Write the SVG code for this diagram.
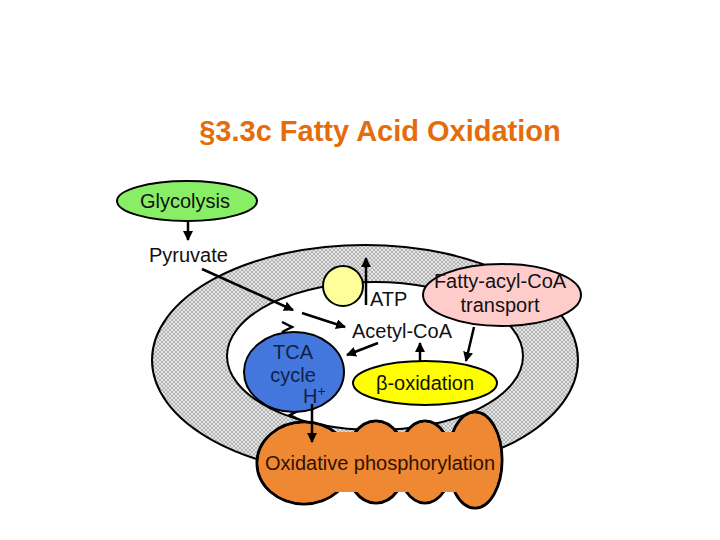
<svg xmlns="http://www.w3.org/2000/svg" width="720" height="540" viewBox="0 0 720 540">
<defs>
<pattern id="hatch" width="4" height="4" patternUnits="userSpaceOnUse">
<rect width="4" height="4" fill="#e4e4e4"/>
<path d="M0 0L4 4M4 0L0 4" stroke="#a8a8a8" stroke-width="0.8"/>
</pattern>
<marker id="ah" viewBox="0 0 10 10" refX="9" refY="5" markerWidth="4" markerHeight="4" orient="auto">
<path d="M0 0L10 5L0 10z" fill="#000"/>
</marker>
<style>
text{font-family:"Liberation Sans",Arial,sans-serif;fill:#111;font-size:20px}
.c{text-anchor:middle}
.ln{stroke:#000;stroke-width:2.5;fill:none}
.sh{stroke:#000;stroke-width:2}
</style>
</defs>
<rect width="720" height="540" fill="#fff"/>
<text x="380" y="141" class="c" style="font-size:29px;font-weight:bold;fill:#e46c0a">§3.3c Fatty Acid Oxidation</text>

<g id="mito">
<ellipse cx="365" cy="360" rx="213" ry="115" fill="url(#hatch)" class="sh"/>
<ellipse cx="375" cy="356" rx="148" ry="74" fill="#fff" class="sh"/>
<path d="M282 322L292 327L282 332" class="ln" stroke-width="2"/>
<path d="M300 410L290 415L300 420" class="ln" stroke-width="2"/>
</g>

<g id="glycolysis">
<ellipse cx="187" cy="201" rx="70" ry="20" fill="#88ee66" class="sh"/>
<text x="185" y="208" class="c">Glycolysis</text>
</g>
<g id="pyruvate"><text x="149" y="262">Pyruvate</text></g>

<g id="atp">
<circle cx="343" cy="286" r="20" fill="#ffff99" class="sh"/>
<text x="370" y="306">ATP</text>
</g>

<g id="fatty">
<ellipse cx="502" cy="295" rx="79" ry="31" fill="#ffcccc" class="sh"/>
<text x="500" y="288" class="c">Fatty-acyl-CoA</text>
<text x="500" y="312" class="c">transport</text>
</g>

<g id="acetyl"><text x="402" y="338" class="c">Acetyl-CoA</text></g>

<g id="tca">
<ellipse cx="294" cy="372" rx="50" ry="40" fill="#4477dd" class="sh"/>
<text x="293" y="359" class="c" style="fill:#112244">TCA</text>
<text x="293" y="382" class="c" style="fill:#112244">cycle</text>
<text x="303" y="403" style="fill:#112244">H<tspan dy="-7" font-size="14">+</tspan></text>
</g>

<g id="beta">
<ellipse cx="425" cy="383" rx="72" ry="22" fill="#ffff00" class="sh"/>
<text x="425" y="390" class="c">β-oxidation</text>
</g>

<g id="oxphos">
<g stroke="#000" stroke-width="3" fill="#ee8833">
<ellipse cx="304" cy="463" rx="47" ry="41"/>
<ellipse cx="376" cy="462" rx="30" ry="41"/>
<ellipse cx="425" cy="462" rx="27" ry="41"/>
<ellipse cx="475" cy="460" rx="27" ry="48"/>
</g>
<g fill="#ee8833">
<ellipse cx="304" cy="463" rx="45.5" ry="39.5"/>
<ellipse cx="376" cy="462" rx="28.5" ry="39.5"/>
<ellipse cx="425" cy="462" rx="25.5" ry="39.5"/>
<ellipse cx="475" cy="460" rx="25.5" ry="46.5"/>
<rect x="300" y="432" width="170" height="60"/>
</g>
<text x="380" y="470" class="c" style="fill:#331100">Oxidative phosphorylation</text>
</g>

<g id="connectors">
<path d="M188 222V240" class="ln" marker-end="url(#ah)"/>
<path d="M202 269L293 310" class="ln" marker-end="url(#ah)"/>
<path d="M302 313L345 327" class="ln" marker-end="url(#ah)"/>
<path d="M378 343L347 355" class="ln" marker-end="url(#ah)"/>
<path d="M366 305V258" class="ln" stroke-width="2" marker-end="url(#ah)"/>
<path d="M420 362V343" class="ln" marker-end="url(#ah)"/>
<path d="M474 327L466 361" class="ln" marker-end="url(#ah)"/>
<path d="M312 404V442" class="ln" marker-end="url(#ah)"/>
</g>
</svg>
